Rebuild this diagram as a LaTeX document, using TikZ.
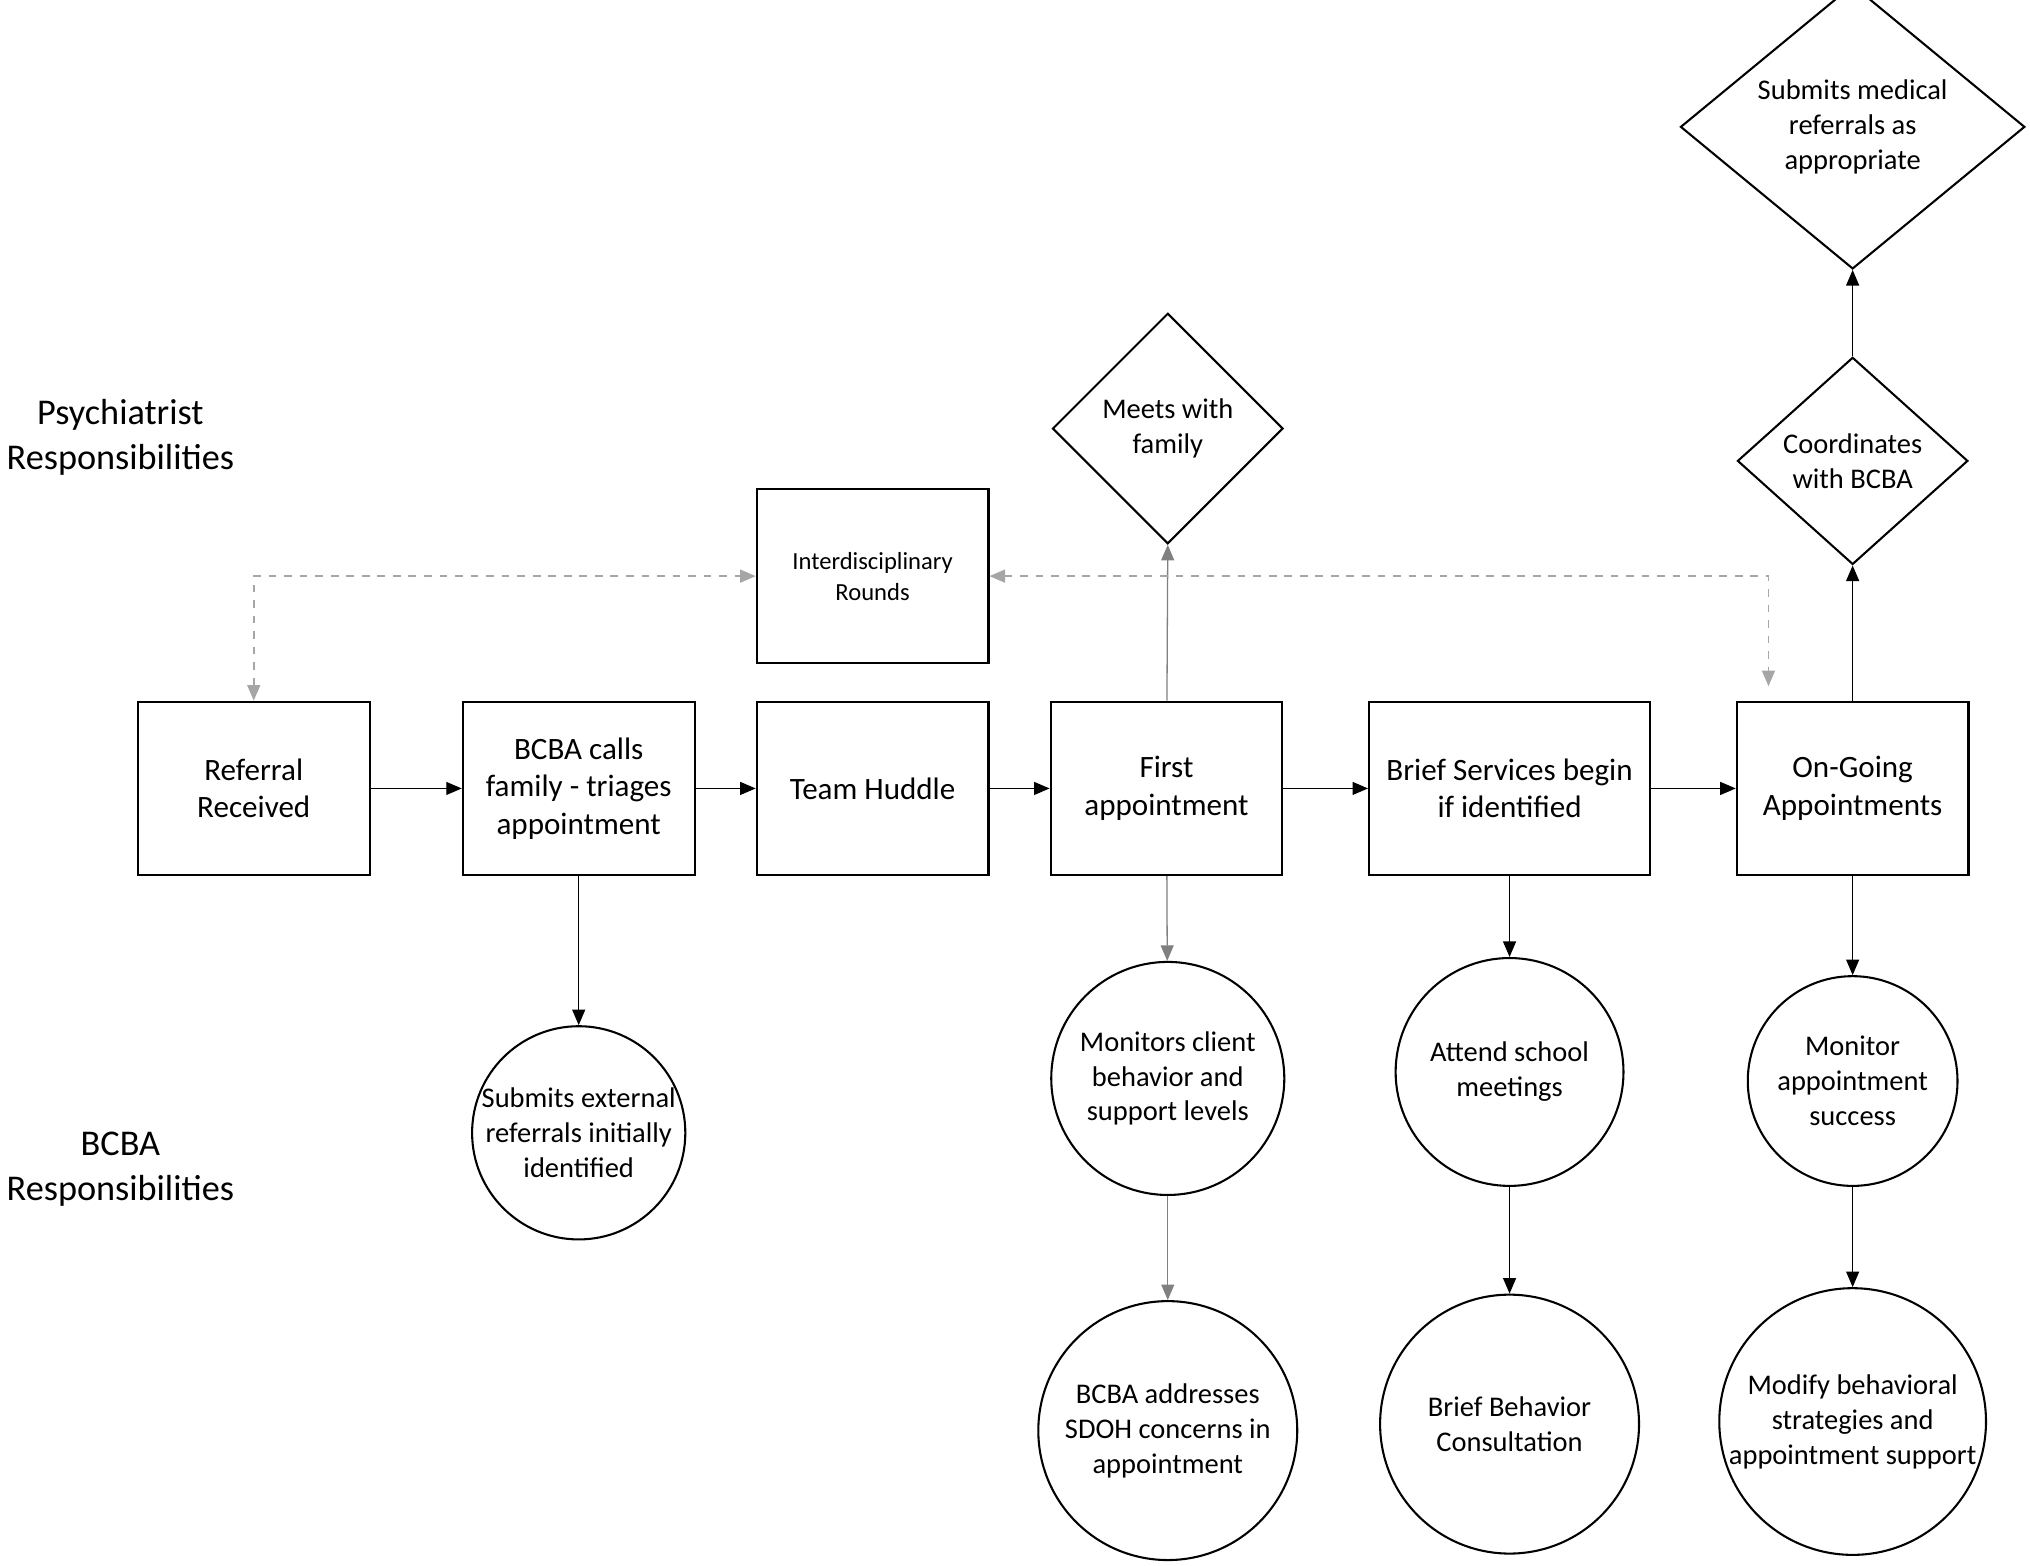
\documentclass[tikz,border=0pt]{standalone}
\usepackage{fontspec}
\setmainfont{Carlito}
\usetikzlibrary{shapes.geometric,arrows.meta}
\begin{document}
\begin{tikzpicture}[x=0.5pt,y=-0.5pt,
 box/.style={draw,line width=0.8pt,minimum width=89.5pt,minimum height=67pt,align=center,font=\fontsize{12}{14.5}\selectfont},
 dia/.style={draw,line width=0.8pt,diamond,align=center,font=\fontsize{11}{13.5}\selectfont,inner sep=0pt},
 circ/.style={draw,line width=0.8pt,circle,align=center,font=\fontsize{11}{13.5}\selectfont,inner sep=0pt},
 arr/.style={-{Triangle[length=6pt,width=5pt]},line width=0.5pt},
 dsh/.style={{Triangle[length=6pt,width=5pt]}-{Triangle[length=6pt,width=5pt]},gray!70,dashed,line width=0.6pt},
 lab/.style={align=center,font=\fontsize{14}{17.5}\selectfont}]
\useasboundingbox (0,0) rectangle (1568,1209);
\node[lab] (p) at (93,338) {Psychiatrist\\Responsibilities};
\node[lab] (b) at (93,903) {BCBA\\Responsibilities};
\node[box] (r) at (196,609) {Referral\\Received};
\node[box] (c) at (447,609) {BCBA calls\\family - triages\\appointment};
\node[box] (t) at (674,609) {Team Huddle};
\node[box] (f) at (901,609) {First\\appointment};
\node[box,minimum width=108.5pt] (s) at (1166,609) {Brief Services begin\\if identified};
\node[box] (o) at (1431,609) {On-Going\\Appointments};
\node[box,font=\fontsize{9.5}{12}\selectfont] (ir) at (674,445) {Interdisciplinary\\Rounds};
\node[dia,minimum width=89pt,minimum height=89pt] (m) at (902,331) {Meets with\\family};
\node[dia,minimum width=89pt,minimum height=80pt] (cb) at (1431,356) {Coordinates\\with BCBA};
\node[dia,minimum width=133pt,minimum height=97pt] (sm) at (1431,98) {Submits medical\\referrals as\\appropriate};
\node[circ,minimum size=81pt] (e) at (447,875) {Submits external\\referrals initially\\identified};
\node[circ,minimum size=90pt] (mc) at (902,833) {Monitors client\\behavior and\\support levels};
\node[circ,minimum size=100pt] (sd) at (902,1105) {BCBA addresses\\SDOH concerns in\\appointment};
\node[circ,minimum size=88pt] (as) at (1166,828) {Attend school\\meetings};
\node[circ,minimum size=100pt] (bb) at (1166,1100) {Brief Behavior\\Consultation};
\node[circ,minimum size=81pt] (ma) at (1431,835) {Monitor\\appointment\\success};
\node[circ,minimum size=103pt] (mo) at (1431,1098) {Modify behavioral\\strategies and\\appointment support};
\coordinate (d1) at (1366,530);
\draw[arr] (r) -- (c); \draw[arr] (c) -- (t); \draw[arr] (t) -- (f);
\draw[arr] (f) -- (s); \draw[arr] (s) -- (o);
\draw[arr] (c) -- (e);
\draw[arr,draw=gray] (f) -- (mc); \draw[arr,draw=gray] (mc) -- (sd);
\draw[arr] (s) -- (as); \draw[arr] (as) -- (bb);
\draw[arr] (o) -- (ma); \draw[arr] (ma) -- (mo);
\draw[arr,draw=gray] (f) -- (m.south);
\draw[arr] (o) -- (cb.south); \draw[arr] (cb) -- (sm);
\draw[dsh] (r.north) |- (ir.west);
\draw[dsh] (ir.east) -| (d1);
\end{tikzpicture}
\end{document}
